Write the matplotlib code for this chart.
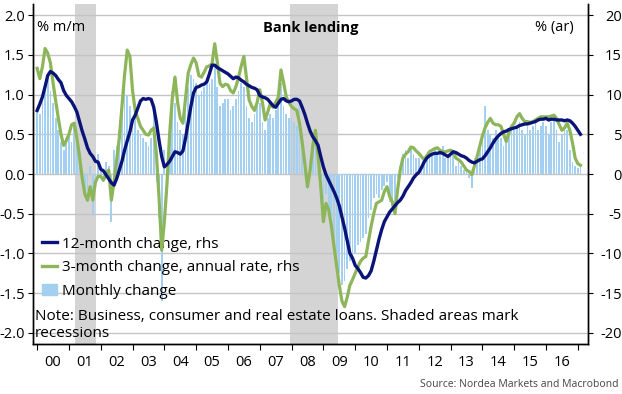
import numpy as np
import matplotlib.pyplot as plt
from matplotlib.lines import Line2D
from matplotlib.patches import Patch

plt.rcParams['font.family'] = ['Open Sans', 'DejaVu Sans']
plt.rcParams['axes.unicode_minus'] = False

# monthly data, Jan 2000 - Feb 2017
start_year = 2000

#Monthly change, % m/m (lhs)
monthly = [
    0.80, 0.75, 1.05, 1.10, 1.20, 1.05, 0.90, 0.70, 0.55, 0.40, 0.30, 0.45,   # 2000
    0.50, 0.40, 0.60, 0.35, 0.20, 0.05, -0.25, -0.20, 0.10, -0.50, -0.15, 0.25,  # 2001
    0.05, -0.10, 0.15, 0.10, -0.60, 0.30, 0.35, 0.55, 0.95, 1.20, 1.00, 0.85,  # 2002
    0.70, 0.75, 0.55, 0.50, 0.45, 0.40, 0.35, 0.45, 0.80, -0.10, -0.55, -1.60,  # 2003
    0.30, -0.25, 0.60, 1.05, 0.90, 0.65, 0.55, 0.50, 0.85, 1.10, 1.25, 1.20,  # 2004
    1.15, 1.00, 1.05, 1.10, 1.20, 1.15, 1.20, 1.35, 1.10, 0.85, 0.90, 0.95,  # 2005
    0.95, 0.80, 0.85, 0.95, 1.05, 1.15, 1.10, 0.85, 0.70, 0.65, 0.75, 0.85,  # 2006
    0.90, 0.65, 0.55, 0.70, 0.75, 0.70, 0.80, 0.85, 1.15, 0.85, 0.75, 0.70,  # 2007
    0.70, 0.65, 0.60, 0.95, 0.30, 0.10, -0.20, 0.15, 0.40, 0.45, 0.05, -0.30,  # 2008
    -0.50, -0.25, -0.45, -0.60, -0.80, -1.00, -1.25, -1.40, -1.35, -1.20, -1.10, -1.05,  # 2009
    -1.00, -0.90, -0.85, -0.80, -0.75, -0.55, -0.45, -0.30, -0.25, -0.30, -0.20, -0.15,  # 2010
    -0.10, -0.35, -0.40, -0.45, -0.05, 0.10, 0.25, 0.30, 0.20, 0.35, 0.25, 0.20,  # 2011
    0.20, 0.10, 0.15, 0.25, 0.30, 0.25, 0.30, 0.25, 0.25, 0.35, 0.20, 0.25,  # 2012
    0.25, 0.30, 0.10, 0.15, 0.10, 0.05, 0.02, -0.05, -0.18, 0.20, 0.25, 0.40,  # 2013
    0.45, 0.85, 0.55, 0.50, 0.45, 0.55, 0.50, 0.45, 0.35, 0.40, 0.55, 0.60,  # 2014
    0.55, 0.60, 0.65, 0.55, 0.50, 0.60, 0.55, 0.60, 0.65, 0.55, 0.60, 0.65,  # 2015
    0.60, 0.50, 0.65, 0.70, 0.55, 0.40, 0.50, 0.60, 0.55, 0.30, 0.15, 0.10,  # 2016
    0.08, 0.12,  # 2017
]

#12-month change, % (rhs)
yoy = [
    8.0, 8.8, 9.7, 11.0, 12.4, 12.9, 12.7, 12.4, 11.9, 11.5, 10.5, 9.9,
    9.5, 9.1, 8.5, 7.8, 6.6, 5.4, 4.4, 3.3, 2.6, 2.2, 1.6, 1.5,
    0.6, 0.4, -0.1, -0.6, -1.1, -1.4, -0.6, 0.5, 1.6, 3.0, 4.2, 5.3,
    6.8, 7.4, 8.3, 9.2, 9.5, 9.4, 9.5, 9.4, 8.4, 6.5, 4.2, 2.2,
    0.9, 1.2, 1.6, 2.2, 2.8, 2.7, 2.5, 2.9, 4.5, 6.5, 8.5, 10.2,
    10.9, 11.0, 11.2, 11.3, 11.6, 12.6, 13.7, 13.7, 13.4, 13.2, 13.0, 12.8,
    12.6, 12.3, 12.0, 12.2, 12.1, 11.8, 11.6, 11.3, 11.1, 10.9, 10.8, 10.6,
    9.9, 9.7, 9.6, 9.4, 9.0, 8.6, 8.4, 8.9, 9.4, 9.5, 9.2, 9.1,
    9.2, 9.4, 9.4, 9.2, 8.4, 7.5, 6.4, 5.4, 4.7, 4.2, 3.6, 2.2,
    0.9, -0.1, -0.8, -1.5, -2.2, -3.0, -4.0, -5.4, -6.8, -8.4, -10.0, -10.6,
    -11.5, -11.9, -12.4, -13.0, -13.1, -12.8, -12.2, -11.0, -9.6, -8.2, -7.0, -6.0,
    -5.4, -4.8, -4.4, -4.0, -3.6, -3.3, -2.8, -2.1, -1.6, -1.1, -0.5, -0.1,
    0.2, 0.8, 1.5, 2.0, 2.3, 2.5, 2.6, 2.6, 2.7, 2.6, 2.4, 2.2,
    2.5, 2.8, 2.7, 2.5, 2.3, 2.2, 2.0, 1.7, 1.5, 1.4, 1.6, 1.8,
    1.9, 2.3, 2.8, 3.3, 3.9, 4.4, 4.8, 5.1, 5.3, 5.4, 5.6, 5.7,
    5.8, 5.9, 6.1, 6.2, 6.3, 6.3, 6.4, 6.5, 6.6, 6.8, 6.9, 6.9,
    7.0, 6.8, 6.9, 6.9, 6.8, 6.8, 6.8, 6.7, 6.8, 6.7, 6.4, 6.0,
    5.5, 5.0,
]

#3-month change, annual rate, % (rhs)
ar3m = [
    13.3, 12.0, 13.5, 15.8, 15.2, 14.0, 11.5, 9.2, 7.0, 5.0, 3.6, 4.2,
    5.0, 6.2, 6.4, 4.5, 2.2, -0.5, -2.5, -3.3, -1.6, -3.3, -1.0, -0.3,
    -0.3, -0.8, 0.0, 0.5, -3.3, -1.0, 1.8, 4.5, 8.5, 12.5, 15.6, 14.8,
    10.5, 8.0, 7.0, 6.0, 5.5, 5.0, 4.9, 5.5, 5.8, 2.5, -3.0, -9.6,
    -6.0, -1.2, 5.1, 9.5, 12.2, 9.0, 7.0, 6.4, 9.5, 12.7, 13.8, 14.6,
    14.0, 12.4, 12.2, 12.8, 13.5, 13.6, 13.9, 16.4, 14.0, 11.4, 11.0, 11.3,
    11.2, 10.5, 10.2, 11.0, 12.2, 13.6, 14.8, 12.0, 9.3, 8.5, 8.0, 9.0,
    10.6, 9.0, 6.8, 7.8, 8.9, 8.4, 9.0, 9.7, 13.1, 11.5, 9.7, 9.0,
    8.5, 8.2, 8.0, 6.4, 4.0, 1.3, -1.6, 0.5, 3.5, 5.5, 2.2, -1.5,
    -6.0, -3.7, -4.5, -6.5, -9.1, -11.5, -14.0, -16.0, -16.7, -15.5, -14.0, -13.3,
    -12.5, -11.7, -11.0, -10.6, -10.4, -8.5, -6.6, -5.0, -3.7, -3.5, -3.3, -2.2,
    -1.6, -2.8, -3.5, -5.0, -2.0, 0.5, 2.0, 2.5, 2.8, 3.4, 3.3, 2.9,
    2.6, 2.2, 1.8, 2.3, 2.8, 3.0, 3.2, 3.3, 3.0, 2.8, 2.8, 2.9,
    3.0, 2.8, 2.0, 1.8, 1.5, 1.0, 0.5, 0.3, -0.1, 1.0, 2.2, 3.5,
    4.8, 5.8, 6.5, 7.0, 6.4, 6.2, 6.2, 6.0, 5.0, 4.1, 5.2, 6.0,
    6.4, 7.2, 7.6, 7.0, 6.6, 6.6, 6.5, 6.6, 6.8, 7.0, 7.2, 7.2,
    7.2, 7.2, 7.3, 7.4, 7.0, 6.2, 5.5, 5.8, 6.4, 5.5, 3.9, 2.0,
    1.3, 1.1,
]

# US recessions (Mar-Nov 2001, Dec 2007-Jun 2009)
recessions = [(2001.2, 2001.85), (2007.95, 2009.45)]
year_labels = ['00', '01', '02', '03', '04', '05', '06', '07', '08',
               '09', '10', '11', '12', '13', '14', '15', '16']

navy = '#0a1378'
green = '#8db55a'
blue = '#a3d0f1'

t = start_year + np.arange(len(yoy)) / 12

fig = plt.figure(figsize=(6.22, 3.94), dpi=100)
ax = fig.add_axes([33/622, 50/394, 555/622, 340/394])
ax2 = ax.twinx()

for a, b in recessions:
    ax.axvspan(a, b, color='#d4d4d4', lw=0, zorder=0)
ax.bar(t, monthly, width=0.055, color=blue, lw=0, zorder=2)
ax.set_ylim(-2.14, 2.14)
yt = np.arange(-2, 2.01, 0.5)
ax.set_yticks(yt)
ax.set_yticklabels([f'{v:.1f}' for v in yt])
ax.grid(axis='y', color='#c4c4c4', lw=1, zorder=1)
ax.set_axisbelow(True)

ax2.plot(t, ar3m, color=green, lw=2.3, solid_joinstyle='round')
ax2.plot(t, yoy, color=navy, lw=2.4, solid_joinstyle='round')
ax2.set_ylim(-21.4, 21.4)
ax2.set_yticks(range(-20, 21, 5))

ax.set_xlim(1999.87, 2017.32)
ax.set_xticks(range(2000, 2018))
ax.set_xticklabels([])
ax.set_xticks(np.arange(2000.5, 2017, 1), minor=True)
ax.set_xticklabels(year_labels, minor=True)
ax.tick_params(axis='x', which='minor', length=0, pad=8, labelsize=10.5)
ax.tick_params(axis='x', which='major', length=4, direction='out')
ax.tick_params(axis='y', length=3.5, labelsize=10.5, pad=2.5)
ax2.tick_params(axis='y', length=3.5, labelsize=10.5, pad=21)
plt.setp(ax2.get_yticklabels(), ha='right')

for a in (ax, ax2):
    a.spines['top'].set_visible(False)
    for s in ('left', 'right', 'bottom'):
        a.spines[s].set_linewidth(1)

ax.text(0.008, 0.93, '% m/m', transform=ax.transAxes, fontsize=10.5, va='center')
ax.text(0.5, 0.93, 'Bank lending', transform=ax.transAxes, fontsize=10.5,
        fontweight='bold', ha='center', va='center')
ax.text(0.975, 0.93, '% (ar)', transform=ax.transAxes, fontsize=10.5,
        ha='right', va='center')

handles = [Line2D([], [], color=navy, lw=2.4),
           Line2D([], [], color=green, lw=2.4),
           Patch(color=blue)]
labels = ['12-month change, rhs', '3-month change, annual rate, rhs', 'Monthly change']
ax.legend(handles, labels, loc='upper left', bbox_to_anchor=(0.0, 0.343),
          frameon=False, fontsize=11, handlelength=1.0, handletextpad=0.3,
          labelspacing=0.56, borderaxespad=0.2, handleheight=0.7)

ax.text(0.004, 0.055, 'Note: Business, consumer and real estate loans. Shaded areas mark\nrecessions',
        transform=ax.transAxes, fontsize=11, va='center', linespacing=1.2)

fig.text(0.994, 0.025, 'Source: Nordea Markets and Macrobond', ha='right',
         va='center', fontsize=7.5, color='#444444')

fig.savefig('out.png', dpi=100)
